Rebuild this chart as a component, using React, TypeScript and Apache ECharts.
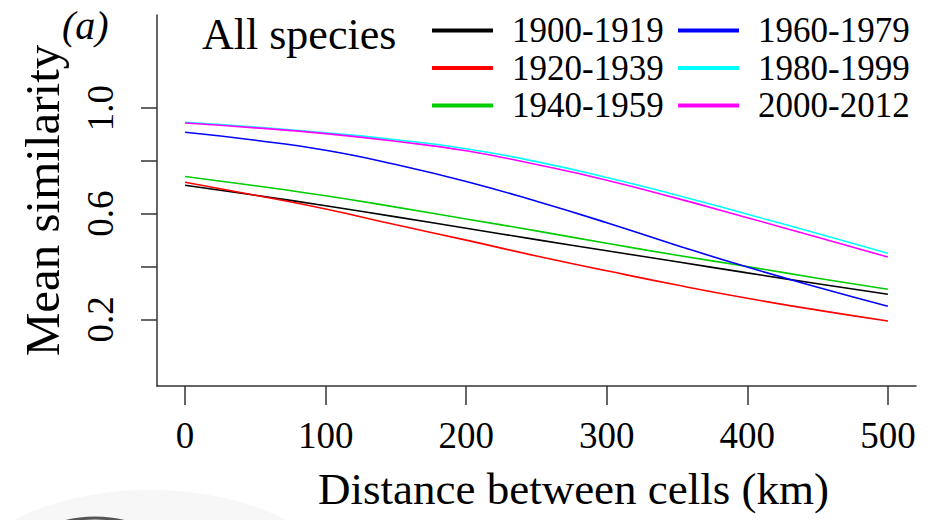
import React, { useEffect, useRef } from "react";
import * as echarts from "echarts";

const DISTANCE = [0, 50, 100, 150, 200, 250, 300, 350, 400, 450, 500];
const PERIODS = ["1900-1919", "1920-1939", "1940-1959", "1960-1979", "1980-1999", "2000-2012"];
const COLORS = ["#000000", "#FF0000", "#00CD00", "#0000FF", "#00FFFF", "#FF00FF"];
const S1900 = [0.708, 0.670, 0.630, 0.588, 0.545, 0.502, 0.460, 0.418, 0.376, 0.335, 0.295];
const S1920 = [0.719, 0.670, 0.618, 0.558, 0.500, 0.440, 0.384, 0.330, 0.280, 0.235, 0.194];
const S1940 = [0.741, 0.706, 0.668, 0.625, 0.580, 0.535, 0.488, 0.443, 0.400, 0.356, 0.314];
const S1960 = [0.908, 0.878, 0.840, 0.786, 0.722, 0.647, 0.566, 0.480, 0.398, 0.322, 0.250];
const S1980 = [0.946, 0.928, 0.906, 0.880, 0.846, 0.797, 0.737, 0.670, 0.598, 0.525, 0.450];
const S2000 = [0.943, 0.925, 0.903, 0.874, 0.838, 0.786, 0.727, 0.658, 0.585, 0.511, 0.436];
const SERIES = [S1900, S1920, S1940, S1960, S1980, S2000];
const X_TICKS = [0, 100, 200, 300, 400, 500];
const Y_TICKS = [0.2, 0.4, 0.6, 0.8, 1.0];
const Y_LABELS = [0.2, 0.6, 1.0];

const FONT = "'Liberation Serif', 'Times New Roman', serif";
const AXIS_COLOR = "#333333";

export default function App() {
  const ref = useRef<HTMLDivElement>(null);
  useEffect(() => {
    if (!ref.current) return;
    const chart = echarts.init(ref.current, null, { renderer: "svg" });
    const legendCommon = {
      orient: "vertical",
      top: 8,
      itemWidth: 61,
      itemHeight: 4,
      itemGap: 2.5,
      icon: "rect",
      textStyle: {
        fontFamily: FONT,
        fontSize: 35,
        lineHeight: 35,
        color: "#000",
        padding: [0, 0, 0, 14],
      },
    };
    const option = {
      animation: false,
      backgroundColor: "#ffffff",
      textStyle: { fontFamily: FONT },
      grid: { left: 157, top: 15, width: 759, height: 371, containLabel: false },
      legend: [
        { ...legendCommon, left: 427, data: PERIODS.slice(0, 3) },
        { ...legendCommon, left: 673, data: PERIODS.slice(3, 6) },
      ],
      graphic: [
        {
          type: "ellipse",
          silent: true,
          z: -10,
          shape: { cx: 150, cy: 590, rx: 190, ry: 100 },
          style: { fill: "#f7f7f7" },
        },
        {
          type: "ellipse",
          silent: true,
          z: -9,
          shape: { cx: 95, cy: 548, rx: 62, ry: 30 },
          style: { fill: "none", stroke: "#555", lineWidth: 3 },
        },
        {
          type: "text",
          left: 62,
          top: 5,
          style: { text: "(a)", font: `italic 40px ${FONT}`, fill: "#000" },
        },
        {
          type: "text",
          left: 202,
          top: 12,
          style: { text: "All species", font: `44px ${FONT}`, fill: "#000" },
        },
      ],
      xAxis: {
        type: "value",
        min: -20,
        max: 520,
        name: "Distance between cells (km)",
        nameLocation: "middle",
        nameGap: 80,
        nameTextStyle: { fontFamily: FONT, fontSize: 45, color: "#000", padding: [0, 0, 0, 74] },
        axisLine: { show: true, onZero: false, lineStyle: { color: AXIS_COLOR, width: 1.5 } },
        axisTick: {
          show: true,
          length: 19,
          customValues: X_TICKS,
          lineStyle: { color: AXIS_COLOR, width: 1.5 },
        },
        axisLabel: {
          customValues: X_TICKS,
          fontFamily: FONT,
          fontSize: 37,
          color: "#000",
          margin: 31,
        },
        splitLine: { show: false },
      },
      yAxis: {
        type: "value",
        min: -0.052,
        max: 1.352,
        name: "Mean similarity",
        nameLocation: "middle",
        nameGap: 90,
        nameTextStyle: { fontFamily: FONT, fontSize: 49, color: "#000" },
        axisLine: { show: true, onZero: false, lineStyle: { color: AXIS_COLOR, width: 1.5 } },
        axisTick: {
          show: true,
          length: 16,
          customValues: Y_TICKS,
          lineStyle: { color: AXIS_COLOR, width: 1.5 },
        },
        axisLabel: {
          customValues: Y_LABELS,
          rotate: 90,
          fontFamily: FONT,
          fontSize: 37,
          color: "#000",
          margin: 38,
          formatter: (v: number) => v.toFixed(1),
        },
        splitLine: { show: false },
      },
      series: PERIODS.map((name, i) => ({
        name,
        type: "line",
        smooth: true,
        showSymbol: false,
        symbol: "none",
        color: COLORS[i],
        lineStyle: { color: COLORS[i], width: 1.6 },
        data: DISTANCE.map((d, j) => [d, SERIES[i][j]]),
      })),
    };
    chart.setOption(option as any);
    return () => chart.dispose();
  }, []);
  return (
    <div
      ref={ref}
      style={{ position: "fixed", left: 0, top: 0, width: 936, height: 520, background: "#fff" }}
    />
  );
}
